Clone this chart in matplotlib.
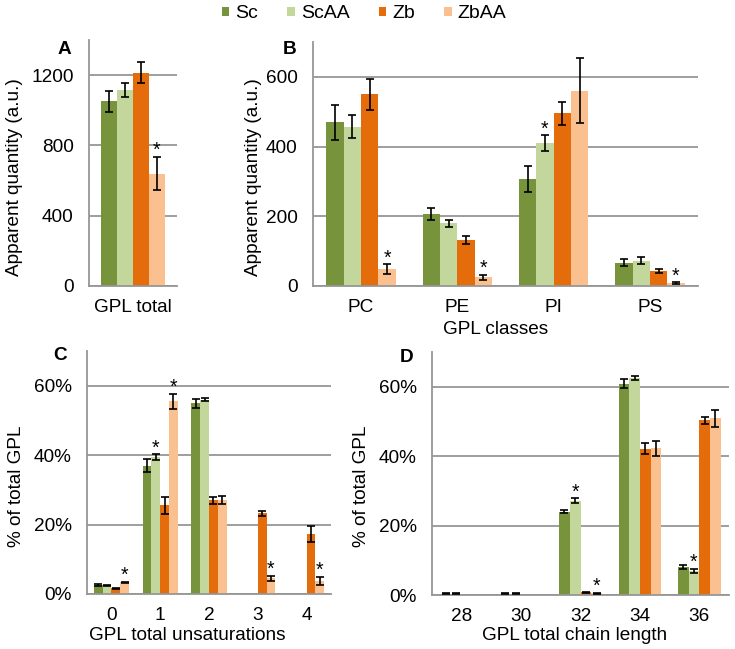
import matplotlib.pyplot as plt
import numpy as np
from matplotlib.patches import Patch
from matplotlib.ticker import PercentFormatter

plt.rcParams['font.family'] = ['Liberation Sans', 'DejaVu Sans']

groups = ["Sc", "ScAA", "Zb", "ZbAA"]
colors = ["#77933C", "#C3D69B", "#E46C0A", "#FAC090"]

# panel A - total GPL (a.u.)
a_cats = ["GPL total"]
a_mean = [[1050], [1115], [1215], [640]]
a_err = [[60], [40], [58], [95]]
a_star = [(0, 3)]

# panel B - GPL classes (a.u.)
b_cats = ["PC", "PE", "PI", "PS"]
b_mean = [[470, 207, 307, 67],
          [457, 180, 410, 73],
          [550, 132, 495, 44],
          [48, 25, 560, 8]]
b_err = [[50, 17, 37, 10],
         [33, 10, 22, 10],
         [45, 12, 33, 6],
         [14, 7, 93, 3]]
b_star = [(0, 3), (1, 3), (2, 1), (3, 3)]

# panel C - unsaturations (% of total GPL)
c_cats = ["0", "1", "2", "3", "4"]
c_mean = [[2.6, 37.0, 55.0, 0.1, 0.1],
          [2.5, 39.5, 56.0, 0.1, 0.1],
          [1.6, 25.5, 27.0, 23.2, 17.3],
          [3.4, 55.5, 27.0, 4.5, 3.8]]
c_err = [[0.2, 1.8, 1.3, 0.0, 0.0],
         [0.1, 0.8, 0.4, 0.0, 0.0],
         [0.2, 2.5, 1.0, 0.8, 2.2],
         [0.2, 2.2, 1.2, 0.7, 1.1]]
c_star = [(0, 3), (1, 1), (1, 3), (3, 3), (4, 3)]

# panel D - chain length (% of total GPL)
d_cats = ["28", "30", "32", "34", "36"]
d_mean = [[0.4, 0.4, 24.0, 60.9, 8.0],
          [0.4, 0.4, 27.2, 62.5, 7.0],
          [0.0, 0.0, 0.8, 42.2, 50.4],
          [0.0, 0.0, 0.5, 42.3, 50.9]]
d_err = [[0.1, 0.1, 0.5, 1.2, 0.6],
         [0.1, 0.1, 0.7, 0.5, 0.6],
         [0.0, 0.0, 0.1, 1.5, 1.0],
         [0.0, 0.0, 0.1, 2.2, 2.4]]
d_star = [(2, 1), (2, 3), (4, 1)]

W, H = 735, 649
FS = 13.7
GRID = "#969696"
SPINE = "#969696"


def box(l, t, r, b):
    return [l / W, 1 - b / H, (r - l) / W, (b - t) / H]


def draw_panel(ax, cats, mean, err, stars, ymax, ticks, pct=False):
    x = np.arange(len(cats))
    w = 0.18
    for i in range(len(groups)):
        pos = x + (i - 1.5) * w
        ax.bar(pos, mean[i], w, color=colors[i], zorder=2)
        m = np.array(mean[i], dtype=float)
        e = np.array(err[i], dtype=float)
        keep = e > 0
        ax.errorbar(pos[keep], m[keep], yerr=e[keep], fmt="none",
                    ecolor="black", elinewidth=1.2, capsize=3,
                    capthick=1.2, zorder=3)
    for c, g in stars:
        top = mean[g][c] + err[g][c]
        ax.annotate("*", xy=(c + (g - 1.5) * w, top), xytext=(0, 0.5),
                    textcoords="offset points", ha="center", va="baseline",
                    fontsize=FS + 0.5)
    ax.set_xlim(-0.5, len(cats) - 0.5)
    ax.set_ylim(0, ymax)
    ax.set_xticks(x)
    ax.set_xticklabels(cats)
    ax.set_yticks(ticks)
    if pct:
        ax.yaxis.set_major_formatter(PercentFormatter(100, decimals=0))
    ax.tick_params(axis="both", length=0, labelsize=FS)
    ax.tick_params(axis="y", pad=11)
    ax.tick_params(axis="x", pad=9.5)
    ax.yaxis.grid(True, color=GRID, linewidth=1.3, zorder=0)
    ax.set_axisbelow(True)
    for s in ["top", "right"]:
        ax.spines[s].set_visible(False)
    for s in ["left", "bottom"]:
        ax.spines[s].set_color(SPINE)
        ax.spines[s].set_linewidth(1.3)


fig = plt.figure(figsize=(W / 100, H / 100), dpi=100)

axA = fig.add_axes(box(89, 40, 177, 286))
axB = fig.add_axes(box(313, 42, 698, 286))
axC = fig.add_axes(box(87, 351, 331, 594))
axD = fig.add_axes(box(432, 352, 729, 595))

draw_panel(axA, a_cats, a_mean, a_err, a_star, 1400, [0, 400, 800, 1200])
draw_panel(axB, b_cats, b_mean, b_err, b_star, 700, [0, 200, 400, 600])
draw_panel(axC, c_cats, c_mean, c_err, c_star, 70, [0, 20, 40, 60], pct=True)
draw_panel(axD, d_cats, d_mean, d_err, d_star, 70, [0, 20, 40, 60], pct=True)


def ftext(x, y, s, **kw):
    fig.text(x / W, 1 - y / H, s, fontsize=FS, ha="center", va="center", **kw)


# panel letters
ftext(64, 50, "A", fontweight="bold")
ftext(290, 50, "B", fontweight="bold")
ftext(60, 356, "C", fontweight="bold")
ftext(407, 357, "D", fontweight="bold")

# axis titles
ftext(15, 177, "Apparent quantity (a.u.)", rotation=90)
ftext(253, 177, "Apparent quantity (a.u.)", rotation=90)
ftext(17, 486, "% of total GPL", rotation=90)
ftext(361, 486, "% of total GPL", rotation=90)
ftext(496, 329, "GPL classes")
ftext(187, 636, "GPL total unsaturations")
ftext(575, 636, "GPL total chain length")

handles = [Patch(facecolor=c, edgecolor="none") for c in colors]
fig.legend(handles, groups, loc="center", bbox_to_anchor=(364 / W, 1 - 14 / H),
           ncol=4, frameon=False, fontsize=FS + 0.3, handlelength=0.4,
           handleheight=0.4, handletextpad=0.3, columnspacing=1.5,
           borderpad=0, borderaxespad=0)

fig.savefig("out.png", dpi=100)
